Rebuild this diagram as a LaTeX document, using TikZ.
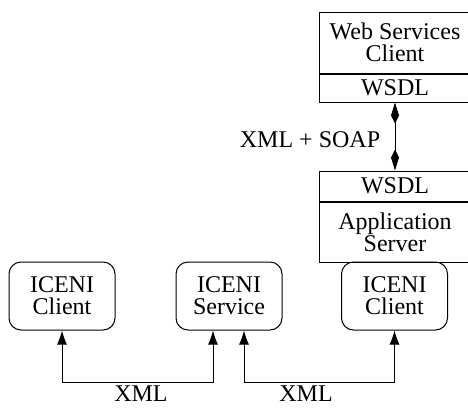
\documentclass[tikz,border=0pt]{standalone}
\usepackage{fontspec}
\setmainfont{Liberation Serif}
\usetikzlibrary{arrows.meta,positioning}

\begin{document}
\begin{tikzpicture}[x=1pt,y=-1pt,line width=1pt,
  every node/.style={font=\fontsize{24}{22}\selectfont,align=center,inner sep=0pt},
  box/.style={draw,minimum width=152pt},
  rbox/.style={draw,rounded corners=12pt,minimum width=106pt,minimum height=68pt},
  link/.style={{Latex[length=14pt,width=10pt]}-{Latex[length=14pt,width=10pt]}},
  soap/.style={{Kite[length=21pt,width=8pt,inset=8pt]}-{Kite[length=21pt,width=8pt,inset=8pt]}}]
  \path[use as bounding box,clip] (0,0) rectangle (468,407);
  % web services side
  \node[box,minimum height=61pt] (wsc) at (395,42.5) {Web Services\\Client};
  \node[box,minimum height=28pt,below=0pt of wsc] (wsdlA) {WSDL};
  \node[box,minimum height=30pt] (wsdlB) at (395,186) {WSDL};
  \node[box,minimum height=60pt,below=0pt of wsdlB] (appsrv) {Application\\Server};
  \draw[soap] (wsdlA.south) -- (wsdlB.north);
  \node (xmlsoap) at (310,140) {XML + SOAP};
  % iceni side
  \node[rbox] (cliA) at (62,296) {ICENI\\Client};
  \node[rbox] (svc) at (229,296) {ICENI\\Service};
  \node[rbox] (cliB) at (394.5,296) {ICENI\\Client};
  \draw[link] (cliA.south) -- ++(0,52) -| ([xshift=-16pt]svc.south);
  \draw[link] ([xshift=15pt]svc.south) -- ++(0,52) -| (cliB.south);
  \node (xmlA) at (141,394) {XML};
  \node (xmlB) at (306,394) {XML};
\end{tikzpicture}
\end{document}
